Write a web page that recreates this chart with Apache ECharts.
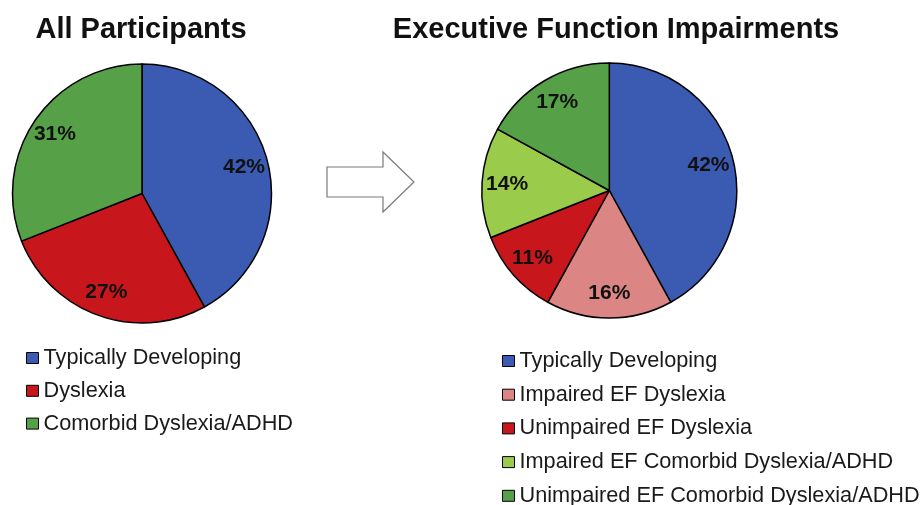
<!DOCTYPE html>
<html>
<head>
<meta charset="utf-8">
<script src="https://cdn.jsdelivr.net/npm/echarts@6/dist/echarts.min.js"></script>
<style>
  html, body { margin: 0; padding: 0; background: #fff; }
  #chart { width: 923px; height: 505px; }
</style>
</head>
<body>
<div id="chart"></div>
<script>
// Group shares (percent of participants)
const allCategories = ['Typically Developing', 'Dyslexia', 'Comorbid Dyslexia/ADHD'];
const allValues = [42, 27, 31];
const allColors = ['#3B5BB3', '#C8171C', '#56A048'];

const efCategories = [
  'Typically Developing',
  'Impaired EF Dyslexia',
  'Unimpaired EF Dyslexia',
  'Impaired EF Comorbid Dyslexia/ADHD',
  'Unimpaired EF Comorbid Dyslexia/ADHD'
];
const efValues = [42, 16, 11, 14, 17];
const efColors = ['#3B5BB3', '#DC8585', '#C8171C', '#9BCB4B', '#56A048'];

const FONT = '"Liberation Sans", Arial, Helvetica, sans-serif';

function toData(names, values, colors) {
  return names.map((n, i) => ({ name: n, value: values[i], itemStyle: colors ? { color: colors[i] } : undefined }));
}

// a filled pie plus a transparent ring on top that carries the percentage labels
function pieSeries(center, r, names, values, colors, labelRatio) {
  const fill = {
    type: 'pie',
    center: center,
    radius: [0, r],
    startAngle: 90,
    clockwise: true,
    silent: true,
    animation: false,
    label: { show: false },
    labelLine: { show: false },
    itemStyle: { borderColor: '#000', borderWidth: 1.5 },
    data: toData(names, values, colors)
  };
  const labels = {
    type: 'pie',
    center: center,
    radius: [r * (2 * labelRatio - 1), r],
    startAngle: 90,
    clockwise: true,
    silent: true,
    animation: false,
    legendHoverLink: false,
    itemStyle: { color: 'rgba(0,0,0,0)', borderWidth: 0 },
    label: {
      show: true,
      position: 'inside',
      formatter: '{c}%',
      fontFamily: FONT,
      fontWeight: 'bold',
      fontSize: 21,
      color: '#111'
    },
    labelLine: { show: false },
    data: toData(names, values, null)
  };
  return [fill, labels];
}

const legendBase = {
  orient: 'vertical',
  icon: 'rect',
  padding: 0,
  height: 200,
  itemWidth: 12,
  itemHeight: 11,
  selectedMode: false,
  itemStyle: { borderColor: '#000', borderWidth: 1 },
  textStyle: { fontFamily: FONT, fontSize: 21.7, color: '#1a1a1a', lineHeight: 22 }
};

const titleStyle = { fontFamily: FONT, fontWeight: 'bold', fontSize: 29, color: '#111', lineHeight: 34 };

const chart = echarts.init(document.getElementById('chart'), null, { renderer: 'canvas' });
chart.setOption({
  backgroundColor: '#fff',
  animation: false,
  title: [
    { text: 'All Participants', left: 141, top: 13, padding: 0, textAlign: 'center', textStyle: titleStyle },
    { text: 'Executive Function Impairments', left: 616, top: 13, padding: 0, textAlign: 'center', textStyle: titleStyle }
  ],
  legend: [
    Object.assign({}, legendBase, { left: 26, top: 347, itemGap: 10.8, data: allCategories }),
    Object.assign({}, legendBase, { left: 502, top: 350, itemGap: 11.7, data: efCategories })
  ],
  graphic: [
    {
      type: 'polygon',
      silent: true,
      shape: { points: [[327, 167], [383, 167], [383, 152], [414, 182], [383, 212], [383, 197], [327, 197]] },
      style: { fill: '#fff', stroke: '#7a7a7a', lineWidth: 1.2 }
    }
  ],
  series: [
    ...pieSeries([142, 193.5], 129.5, allCategories, allValues, allColors, 0.79),
    ...pieSeries([609.3, 190.5], 127.5, efCategories, efValues, efColors, 0.78)
  ]
});
</script>
</body>
</html>
